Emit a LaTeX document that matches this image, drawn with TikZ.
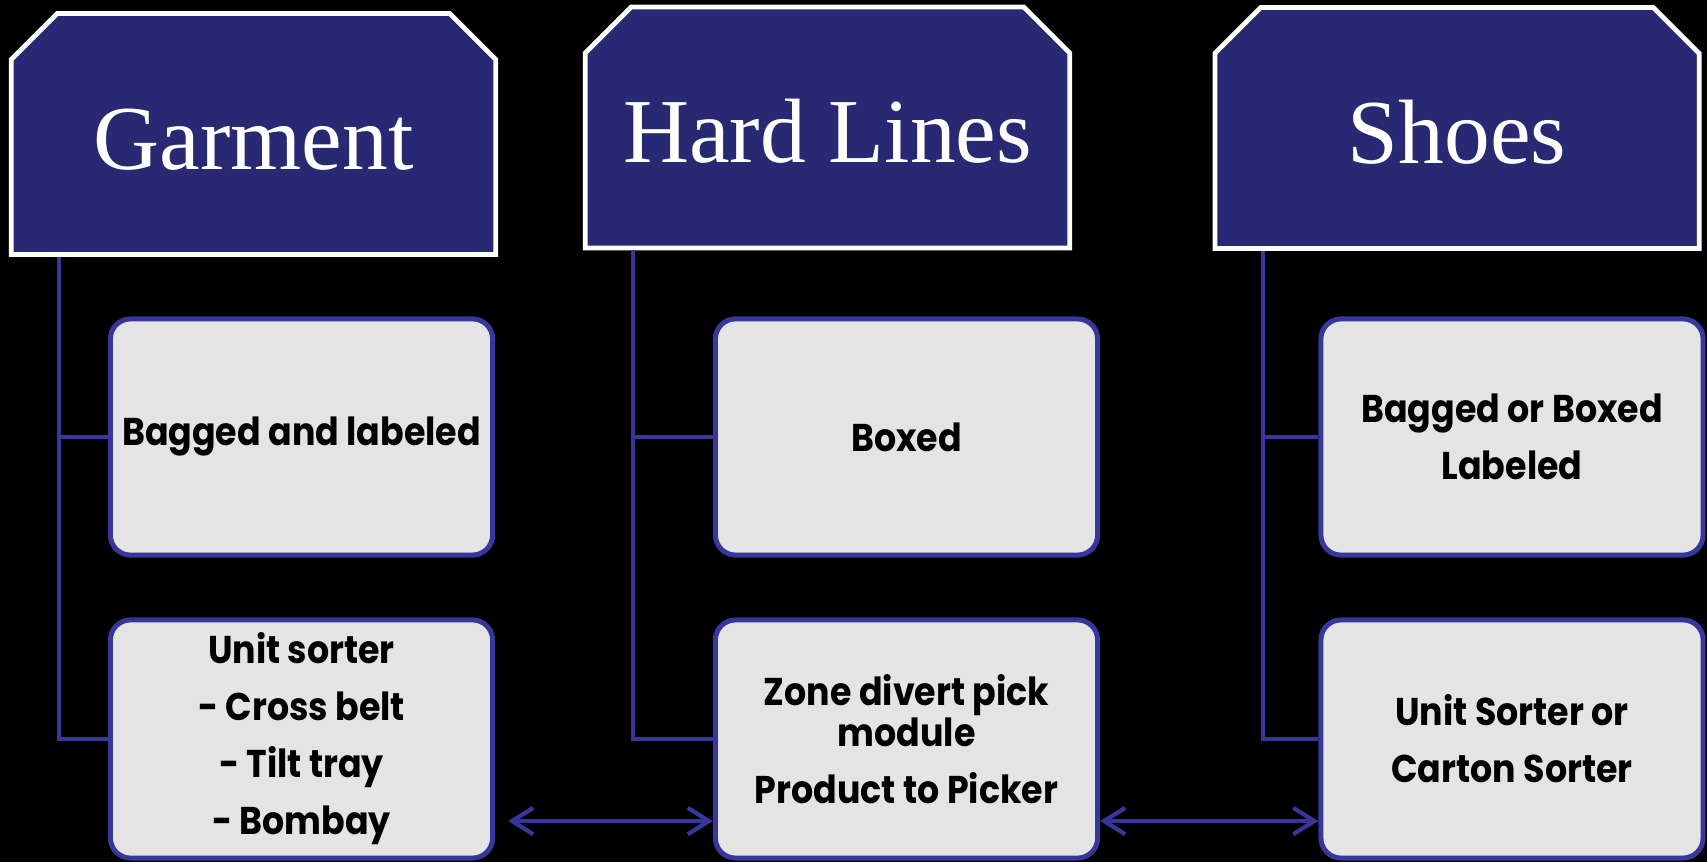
\documentclass[tikz,border=0pt]{standalone}
\usepackage{fontspec}
\setmainfont{Liberation Serif}
\newfontfamily\boxfont{Poppins}[FakeStretch=0.9]
\usepackage{tikz}
\usetikzlibrary{shapes.misc, arrows.meta, positioning, calc}
\definecolor{headbg}{RGB}{40, 40, 115}
\definecolor{linkblue}{RGB}{55, 55, 155}
\definecolor{boxbg}{RGB}{228, 228, 228}
\tikzset{
  headblock/.style={
    chamfered rectangle, chamfered rectangle corners={north west, north east},
    chamfered rectangle xsep=0.42cm, draw=white, fill=headbg, line width=1.35pt,
    minimum width=4.84cm, minimum height=2.41cm, inner sep=0pt,
    text=white, font=\fontsize{26}{30}\selectfont, text height=20pt, text depth=0pt
  },
  itemblock/.style={
    rectangle, rounded corners=5.7pt, draw=linkblue, fill=boxbg, line width=1.42pt,
    minimum width=3.82cm, minimum height=2.36cm, align=center, inner sep=2pt,
    font=\boxfont\bfseries\fontsize{11}{16.2}\selectfont
  },
  treeline/.style={draw=linkblue, line width=1.14pt},
  bidirline/.style={
    draw=linkblue, line width=1.2pt,
    {Straight Barb[length=6pt, width=7.5pt]}-{Straight Barb[length=6pt, width=7.5pt]}
  }
}

\begin{document}
\begin{tikzpicture}[x=0.01cm, y=-0.01cm]
  % Background
  \fill[black] (0,0) rectangle (1707,862);
  \useasboundingbox (0,0) rectangle (1707,862);

  % Category headers
  \node[headblock] (garment) at (253.5,134) {Garment};
  \node[headblock] (hard) at (827.5,127.5) {Hard Lines};
  \node[headblock] (shoes) at (1457,128) {Shoes};

  % Packaging row
  \node[itemblock] (gpack) at (301.5,437) {Bagged and labeled};
  \node[itemblock] (hpack) at (906.5,437) {Boxed};
  \node[itemblock] (spack) at (1512,437) {Bagged or Boxed\\Labeled};

  % Sorting row
  \node[itemblock, minimum height=2.38cm] (gsort) at (301.5,739) {Unit sorter\\- Cross belt\\- Tilt tray\\- Bombay};
  \node[itemblock, minimum height=2.38cm] (hsort) at (906.5,739) {Zone divert pick\\[-4.5pt]module\\Product to Picker};
  \node[itemblock, minimum height=2.38cm] (ssort) at (1512,739) {Unit Sorter or\\Carton Sorter};

  % Tree lines from each header
  \draw[treeline] ([xshift=0.5cm]garment.south west) |- (gsort.west);
  \draw[treeline] ([xshift=0.5cm]garment.south west |- gpack.west) -- (gpack.west);
  \draw[treeline] ([xshift=0.5cm]hard.south west) |- (hsort.west);
  \draw[treeline] ([xshift=0.5cm]hard.south west |- hpack.west) -- (hpack.west);
  \draw[treeline] ([xshift=0.5cm]shoes.south west) |- (ssort.west);
  \draw[treeline] ([xshift=0.5cm]shoes.south west |- spack.west) -- (spack.west);

  % Links between sorters
  \draw[bidirline, shorten <=0.13cm] ([yshift=-0.82cm]gsort.east) -- ([yshift=-0.82cm]hsort.west);
  \draw[bidirline] ([yshift=-0.82cm]hsort.east) -- ([yshift=-0.82cm]ssort.west);
\end{tikzpicture}
\end{document}
